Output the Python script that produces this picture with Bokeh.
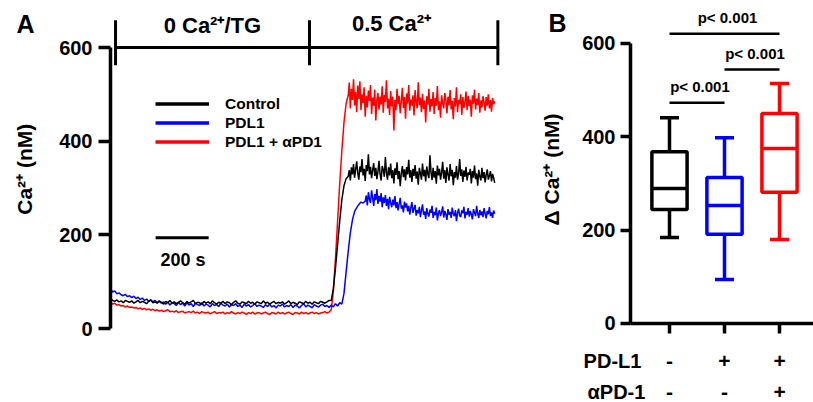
import math
from bokeh.plotting import figure
from bokeh.models import (Range1d, FixedTicker, Legend, LegendItem, Label,
                          LabelSet, ColumnDataSource)
from bokeh.layouts import row
from bokeh.core.properties import value
from bokeh.embed import file_html
from bokeh.resources import INLINE

FONT = "Liberation Sans"

# ---------------- Panel A data: Ca2+ traces (nM) ----------------
# baseline + rise sampled every 8 s from t = 0; plateau sampled every 4 s right after
EARLY_INTERVAL_S = 8
PLATEAU_INTERVAL_S = 4
SERIES_NAMES = ["Control", "PDL1", "PDL1 + \u03b1PD1"]
SERIES_COLORS = ["#000000", "#0000FF", "#FF0000"]

control_early = [
    64, 60, 58, 61, 57, 59, 55, 60, 58, 56,
    59, 54, 57, 60, 55, 58, 56, 53, 58, 61,
    55, 57, 54, 59, 56, 52, 58, 55, 60, 54,
    57, 53, 56, 59, 55, 52, 58, 54, 57, 60,
    53, 56, 55, 51, 58, 54, 57, 53, 59, 55,
    52, 56, 54, 58, 53, 57, 55, 51, 56, 59,
    54, 52, 57, 55, 53, 58, 54, 56, 52, 57,
    55, 53, 59, 54, 56, 52, 55, 58, 53, 56,
    54, 57, 52, 55, 59, 53, 56, 54, 51, 57,
    55, 53, 58, 54, 56, 52, 57, 55, 53, 58,
    56, 54, 57, 60,
    60, 85, 130, 180, 230, 275, 305, 320,
]
control_plateau = [
    325, 338, 316, 344, 329, 351, 322, 340, 357, 331,
    318, 346, 334, 362, 327, 341, 315, 349, 336, 372,
    329, 345, 321, 338, 353, 326, 343, 319, 335, 358,
    330, 316, 347, 339, 324, 366, 333, 318, 344, 327,
    352, 321, 338, 310, 342, 328, 355, 319, 336, 304,
    331, 347, 323, 340, 316, 345, 329, 360, 322, 338,
    313, 341, 326, 349, 320, 335, 307, 343, 331, 318,
    352, 325, 339, 314, 346, 330, 321, 370, 334, 317,
    343, 322, 336, 309, 348, 327, 341, 318, 333, 356,
    320, 338, 311, 344, 329, 316, 351, 325, 339, 306,
    334, 322, 347, 318, 331, 362, 326, 340, 313, 337,
    324, 345, 316, 333, 328, 341, 310, 336, 322, 348,
    319, 331, 305, 339, 325, 316, 343, 321, 334, 312,
    328, 340, 318, 326, 336, 314, 330, 322, 311,
]

pdl1_early = [
    85, 78, 80, 74, 76, 72, 70, 73, 68, 70,
    66, 69, 64, 67, 62, 65, 60, 63, 58, 61,
    57, 60, 55, 58, 54, 57, 52, 56, 50, 55,
    53, 49, 56, 51, 54, 48, 55, 50, 53, 47,
    54, 51, 49, 55, 48, 52, 50, 46, 53, 49,
    51, 47, 54, 50, 48, 52, 46, 51, 49, 53,
    47, 50, 45, 52, 48, 51, 46, 49, 53, 47,
    50, 48, 45, 51, 47, 52, 46, 49, 44, 50,
    48, 52, 46, 49, 47, 51, 45, 50, 48, 44,
    49, 53, 46, 50, 47, 44, 51, 48, 46, 50,
    52, 47, 49, 45,
    50, 46, 53, 48, 55, 52, 75, 120, 165, 205, 232, 250, 258, 265, 270, 268,
]
pdl1_plateau = [
    272, 284, 263, 291, 276, 268, 295, 279, 262, 287,
    274, 298, 266, 283, 271, 289, 259, 280, 268, 285,
    262, 277, 255, 281, 268, 259, 275, 263, 283, 257,
    270, 252, 266, 279, 256, 263, 248, 271, 258, 267,
    250, 262, 243, 258, 270, 247, 256, 264, 241, 253,
    246, 260, 238, 252, 265, 243, 250, 234, 257, 245,
    239, 254, 247, 262, 236, 249, 242, 258, 231, 246,
    253, 240, 248, 261, 237, 251, 244, 232, 255, 243,
    249, 236, 258, 245, 240, 253, 229, 247, 256, 241,
    238, 252, 246, 260, 235, 249, 243, 257, 239, 251,
    244, 233, 255, 247, 240, 262, 245, 236, 253, 242,
    250, 238, 257, 246, 235, 251, 244, 259, 240, 248,
    236, 252, 245,
]

apd1_early = [
    56, 52, 54, 50, 51, 48, 49, 46, 48, 45,
    46, 44, 45, 42, 44, 41, 43, 40, 42, 39,
    41, 38, 40, 37, 39, 36, 38, 40, 36, 37,
    35, 38, 34, 36, 37, 33, 35, 36, 34, 37,
    33, 35, 32, 36, 34, 33, 35, 31, 34, 36,
    32, 34, 33, 35, 31, 34, 32, 36, 33, 31,
    34, 32, 35, 33, 30, 34, 32, 35, 31, 33,
    34, 31, 33, 35, 32, 30, 34, 33, 31, 35,
    32, 34, 31, 33, 35, 32, 30, 34, 33, 31,
    35, 32, 34, 31, 33, 35, 32, 34, 31, 33,
    34, 36, 33, 35,
    40, 80, 150, 230, 310, 380, 440, 480,
]
apd1_plateau = [
    498, 525, 470, 512, 488, 532, 476, 505, 462, 519,
    490, 528, 466, 500, 481, 515, 452, 497, 472, 508,
    486, 520, 458, 493, 476, 510, 444, 489, 503, 467,
    495, 478, 517, 461, 499, 484, 530, 470, 491, 456,
    507, 474, 495, 423, 488, 466, 512, 479, 497, 460,
    485, 514, 471, 494, 448, 502, 480, 520, 465, 489,
    476, 498, 455, 509, 484, 470, 526, 477, 493, 462,
    501, 469, 487, 440, 496, 478, 512, 463, 490, 474,
    505, 458, 492, 476, 518, 466, 485, 450, 498, 481,
    470, 503, 488, 459, 495, 477, 509, 468, 486, 447,
    492, 474, 515, 462, 488, 479, 500, 456, 494, 471,
    484, 506, 466, 497, 475, 489, 452, 498, 480, 510,
    468, 491, 477, 503, 461, 487, 472, 496, 483, 465,
    494, 476, 500, 470, 488, 463, 492, 479, 485,
]

A_YTICKS = [0, 200, 400, 600]
PHASE_LABELS = ["0 Ca\u00b2\u207a/TG", "0.5 Ca\u00b2\u207a"]
PHASE_BOUNDS_S = [19, 750, 1460]
SCALE_BAR_S = 200

# ---------------- Panel B data: box plot of delta Ca2+ (nM) ----------------
GROUP_POS = [1, 2, 3]
BOX_LOWER = [184, 94, 180]
BOX_Q1 = [244, 191, 281]
BOX_MEDIAN = [289, 253, 375]
BOX_Q3 = [368, 313, 450]
BOX_UPPER = [441, 398, 514]
PDL1_SIGNS = ["-", "+", "+"]
APD1_SIGNS = ["-", "-", "+"]
B_YTICKS = [0, 200, 400, 600]
P_LEFT = [1, 2, 1]
P_RIGHT = [3, 3, 2]
P_LEVEL = [621, 544, 473]
P_TEXT = ["p< 0.001", "p< 0.001", "p< 0.001"]


def style_axis(ax, ticks, tick_out, standoff):
    ax.ticker = FixedTicker(ticks=ticks)
    ax.axis_line_width = 3.5
    ax.major_tick_line_width = 3.5
    ax.major_tick_out = tick_out
    ax.major_tick_in = 0
    ax.minor_tick_line_color = None
    ax.major_label_text_font = FONT
    ax.major_label_text_font_style = "bold"
    ax.major_label_text_font_size = "20px"
    ax.major_label_text_color = "black"
    ax.major_label_standoff = standoff


def text_label(p, x, y, txt, size, angle=0.0):
    p.add_layout(Label(x=x, y=y, text=txt, angle=angle, text_align="center",
                       text_baseline="middle", text_font=FONT, text_font_style="bold",
                       text_font_size=size, text_color="black"))


# =============================== Panel A ===============================
pA = figure(width=530, height=402, x_range=Range1d(-414.6, 1583), y_range=Range1d(-158, 700.4),
            output_backend="svg", toolbar_location=None,
            min_border=0, min_border_left=0, min_border_right=0,
            min_border_top=0, min_border_bottom=0)
pA.xaxis.visible = False
pA.grid.visible = False
pA.outline_line_color = None
pA.background_fill_color = "white"
pA.border_fill_color = "white"

ya = pA.yaxis[0]
style_axis(ya, A_YTICKS, 12, 6)
ya.bounds = (0, 600)
ya.fixed_location = 0

traces = [(control_early, control_plateau), (pdl1_early, pdl1_plateau),
          (apd1_early, apd1_plateau)]
for i in [2, 1, 0]:
    early, plateau = traces[i]
    t0 = len(early) * EARLY_INTERVAL_S
    t = [k * EARLY_INTERVAL_S for k in range(len(early))] + \
        [t0 + k * PLATEAU_INTERVAL_S for k in range(len(plateau))]
    pA.line(t, early + plateau, color=SERIES_COLORS[i], line_width=1.5)

# legend (thicker sample lines; a single NaN point so nothing is drawn in the plot)
leg_items = []
for name, col in zip(SERIES_NAMES, SERIES_COLORS):
    r = pA.line(x=[float("nan")], y=[float("nan")], color=col, line_width=3.5)
    leg_items.append(LegendItem(label=name, renderers=[r]))
legend = Legend(items=leg_items, location=(155, 251), orientation="vertical",
                glyph_width=54, glyph_height=19, label_height=19, spacing=0,
                label_standoff=16, padding=0, margin=0,
                border_line_color=None, background_fill_alpha=0,
                label_text_font=FONT, label_text_font_style="bold",
                label_text_font_size="15.5px", label_text_color="black")
pA.add_layout(legend)

# phase bracket at the top
pA.segment(x0=[PHASE_BOUNDS_S[0]], y0=[600], x1=[PHASE_BOUNDS_S[-1]], y1=[600],
           color="black", line_width=3)
pA.segment(x0=PHASE_BOUNDS_S, y0=[562] * 3, x1=PHASE_BOUNDS_S, y1=[658] * 3,
           color="black", line_width=3)
text_label(pA, 384, 647, PHASE_LABELS[0], "22px")
text_label(pA, 1059, 652, PHASE_LABELS[1], "22px")

# scale bar
pA.segment(x0=[170], y0=[194], x1=[170 + SCALE_BAR_S], y1=[194], color="black", line_width=3)
text_label(pA, 273, 147, f"{SCALE_BAR_S} s", "18px")

text_label(pA, -324, 340, "Ca\u00b2\u207a (nM)", "21px", math.pi / 2)
text_label(pA, -320, 651, "A", "25px")

# =============================== Panel B ===============================
pB = figure(width=283, height=402, x_range=Range1d(-1.527, 3.618), y_range=Range1d(-169.3, 692.1),
            output_backend="svg", toolbar_location=None,
            min_border=0, min_border_left=0, min_border_right=0,
            min_border_top=0, min_border_bottom=0)
pB.grid.visible = False
pB.outline_line_color = None
pB.background_fill_color = "white"
pB.border_fill_color = "white"

yb = pB.yaxis[0]
style_axis(yb, B_YTICKS, 10, 5)
yb.bounds = (0, 600)
yb.fixed_location = 0.291

xb = pB.xaxis[0]
style_axis(xb, GROUP_POS, 10, 5)
xb.bounds = (0.291, 3.618)
xb.fixed_location = 0
xb.major_label_text_color = None

box_src = ColumnDataSource(dict(x=GROUP_POS, lower=BOX_LOWER, q1=BOX_Q1, med=BOX_MEDIAN,
                                q3=BOX_Q3, upper=BOX_UPPER, color=SERIES_COLORS))
pB.segment(x0="x", y0="q3", x1="x", y1="upper", color="color", line_width=3.5, source=box_src)
pB.segment(x0="x", y0="q1", x1="x", y1="lower", color="color", line_width=3.5, source=box_src)
pB.vbar(x="x", width=0.64, bottom="q1", top="q3", fill_color="white", line_color="color",
        line_width=3.5, source=box_src)
pB.scatter(x="x", y="med", marker="dash", size=35, line_color="color", line_width=3.5,
           source=box_src)
pB.scatter(x="x", y="upper", marker="dash", size=19, line_color="color", line_width=3.5,
           source=box_src)
pB.scatter(x="x", y="lower", marker="dash", size=19, line_color="color", line_width=3.5,
           source=box_src)

# significance brackets
p_mid = [(a + b) / 2 for a, b in zip(P_LEFT, P_RIGHT)]
p_src = ColumnDataSource(dict(x0=P_LEFT, x1=P_RIGHT, y=P_LEVEL, xm=p_mid, text=P_TEXT))
pB.segment(x0="x0", y0="y", x1="x1", y1="y", color="black", line_width=2.5, source=p_src)
pB.add_layout(LabelSet(x="xm", y="y", text="text", source=p_src, x_offset=3, y_offset=8,
                       text_align="center", text_baseline="bottom",
                       text_font=value(FONT), text_font_style="bold",
                       text_font_size="15px", text_color="black"))

# condition table under the x axis
sign_src = ColumnDataSource(dict(x=GROUP_POS, pdl1=PDL1_SIGNS, apd1=APD1_SIGNS,
                                 y1=[-81] * 3, y2=[-146] * 3))
for fld, yf in [("pdl1", "y1"), ("apd1", "y2")]:
    pB.add_layout(LabelSet(x="x", y=yf, text=fld, source=sign_src,
                           text_align="center", text_baseline="middle",
                           text_font=value(FONT), text_font_style="bold",
                           text_font_size="21px", text_color="black"))
text_label(pB, -0.036, -81, "PD-L1", "20px")
text_label(pB, 0.036, -146, "\u03b1PD-1", "20px")

text_label(pB, -1.145, 330, "\u0394 Ca\u00b2\u207a (nM)", "21px", math.pi / 2)
text_label(pB, -1.036, 643, "B", "25px")

layout = row(pA, pB)
open("out.html", "w").write(file_html(layout, INLINE))
